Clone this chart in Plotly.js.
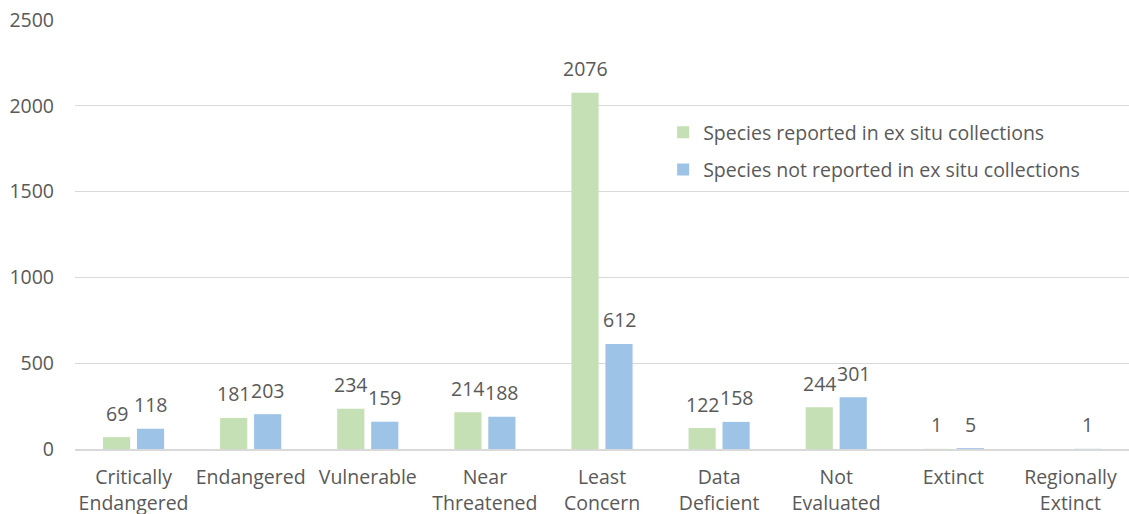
<!DOCTYPE html>
<html>
<head>
<meta charset="utf-8">
<script src="https://cdn.plot.ly/plotly-3.0.1.min.js"></script>
<style>
  html, body { margin: 0; padding: 0; background: #fff; }
  #chart { width: 1129px; height: 514px; }
</style>
</head>
<body>
<div id="chart"></div>
<script>
// IUCN Red List categories
const categories = [
  "Critically<br>Endangered", "Endangered", "Vulnerable", "Near<br>Threatened",
  "Least<br>Concern", "Data<br>Deficient", "Not<br>Evaluated", "Extinct", "Regionally<br>Extinct"
];
// Species counts per category
const reported    = [69, 181, 234, 214, 2076, 122, 244, 1, 0];
const notReported = [118, 203, 159, 188, 612, 158, 301, 5, 1];
// Which bars carry a value label
const reportedLabelled    = [true, true, true, true, true, true, true, true, false];
const notReportedLabelled = [true, true, true, true, true, true, true, true, true];

const seriesNames = ["Species reported in ex situ collections", "Species not reported in ex situ collections"];
const colors = ["#c5e0b4", "#9dc3e6"];
const textColor = "#595959";
const fontFamily = "'Open Sans', Lato, sans-serif";
const fontSize = 19.5;

const traces = [
  { type: "bar", name: seriesNames[0], legendgroup: "a", x: categories, y: reported, marker: { color: colors[0] }, hoverinfo: "y" },
  { type: "bar", name: seriesNames[1], legendgroup: "b", x: categories, y: notReported, marker: { color: colors[1] }, hoverinfo: "y" }
];

// value labels above each bar, offset to the bar's slot within the group
const annotations = [];
function addLabels(vals, flags, shift) {
  vals.forEach((v, i) => {
    if (!flags[i]) return;
    annotations.push({
      x: categories[i], y: v, xref: "x", yref: "y",
      text: String(v), showarrow: false,
      xshift: shift, yshift: 24, yanchor: "middle", xanchor: "center",
      font: { family: fontFamily, size: fontSize, color: textColor }
    });
  });
}
addLabels(reported, reportedLabelled, -17);
addLabels(notReported, notReportedLabelled, 17);

const layout = {
  width: 1129, height: 514,
  margin: { l: 75, r: 0, t: 20, b: 65 },
  paper_bgcolor: "#ffffff", plot_bgcolor: "#ffffff",
  font: { family: fontFamily, size: fontSize, color: textColor },
  barmode: "group",
  bargap: 0.42,
  bargroupgap: 0.2,
  showlegend: true,
  legend: {
    x: 0.558, y: 0.783, xanchor: "left", yanchor: "top",
    orientation: "v", traceorder: "grouped", tracegroupgap: 9,
    font: { family: fontFamily, size: fontSize, color: textColor },
    bgcolor: "rgba(0,0,0,0)", itemwidth: 30
  },
  xaxis: {
    type: "category",
    showgrid: false, showline: true, linecolor: "#d9d9d9", linewidth: 2,
    ticks: "", tickfont: { family: fontFamily, size: fontSize, color: textColor },
    ticklabelstandoff: 10
  },
  yaxis: {
    range: [0, 2500], dtick: 500, tick0: 0,
    showgrid: true, gridcolor: "#d9d9d9", gridwidth: 1,
    zeroline: false, showline: false, ticks: "",
    tickfont: { family: fontFamily, size: fontSize, color: textColor },
    ticklabelstandoff: 20
  },
  annotations: annotations
};

Plotly.newPlot("chart", traces, layout, { displayModeBar: false, staticPlot: true });
</script>
</body>
</html>
